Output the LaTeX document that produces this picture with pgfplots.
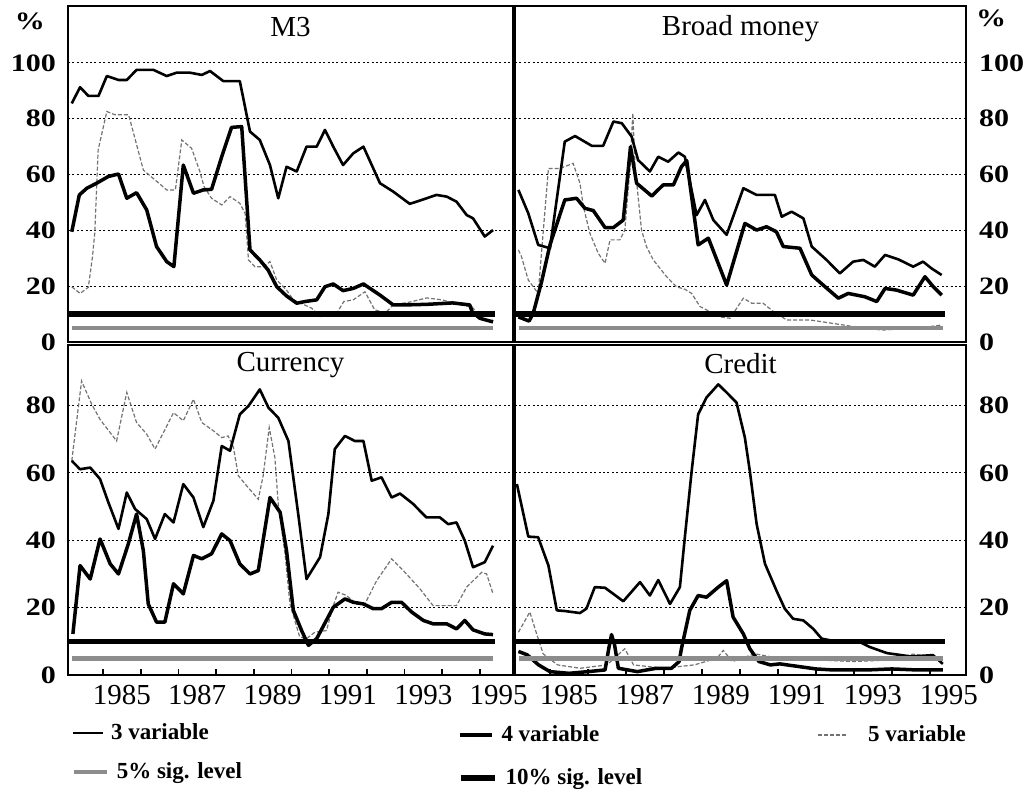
\documentclass[border=0pt]{standalone}
\usepackage{fontspec}
\setmainfont{Liberation Serif}
\newfontfamily\ytfont[FakeStretch=1.2]{Liberation Serif}
\usepackage{pgfplots}
\pgfplotsset{compat=1.18}
\newcommand\titlefont{\fontsize{14.5}{15}\selectfont}
\pgfplotsset{
  v3/.style={black, line width=1.3pt, line join=round},
  v4/.style={black, line width=1.75pt, line join=round},
  v5/.style={black!55, line width=0.6pt, dash pattern=on 2pt off 1pt},
  s5/.style={black!45, line width=2.4pt},
  s10/.style={black, line width=2.8pt},
  panel/.style={scale only axis, anchor=north west,
    axis line style={line width=1.2pt},
    ymajorgrids, major grid style={black, line width=0.5pt, dash pattern=on 1pt off 1.2pt},
    ytick style={draw=none},
    /pgf/number format/assume math mode=true,
    yticklabel style={font=\ytfont\bfseries\fontsize{12.5}{13}\selectfont},
    xticklabel style={font=\fontsize{14.5}{15}\selectfont, yshift=-1.5pt},
  },
  toppanel/.style={panel, height=168pt, ymin=0, ymax=120.4, ytick={0,20,40,60,80,100}, xtick=\empty},
  botpanel/.style={panel, height=165pt, ymin=0, ymax=98, ytick={0,20,40,60,80},
    xtick={1985,...,1995}, xticklabels={}, xtick pos=left,
    major tick length=3pt, xtick style={black, line width=0.8pt},
    extra x ticks={1985.5,1987.5,1989.5,1991.5,1993.5,1995.5},
    extra x tick labels={1985,1987,1989,1991,1993,1995},
    extra x tick style={major tick length=0pt, grid=none}},
  leftpanel/.style={width=222.5pt, xmin=1984.07, xmax=1995.88, yticklabel style={xshift=-2.5pt}},
  rightpanel/.style={width=225.5pt, xmin=1984.08, xmax=1995.95, yticklabel pos=right, yticklabel style={xshift=3pt}},
}
\newcommand\legitem[6]{%
\begin{axis}[hide axis, scale only axis, width=1pt, height=1pt, xmin=0, xmax=1, ymin=0, ymax=1,
  at={(#1,#2)}, anchor=west,
  legend style={at={(0,0.5)}, anchor=west, draw=none, fill=none, inner sep=0pt, outer sep=0pt,
    font=\bfseries\fontsize{11.5}{12}\selectfont, nodes={inner sep=0pt, outer sep=0pt}},
  legend image code/.code={\draw[##1] (0pt,0pt) -- (#4,0pt);}]
\addlegendimage{#3}
\addlegendentry{\hspace*{#5}#6}
\end{axis}}
\begin{document}
\begin{tikzpicture}
\useasboundingbox (0,0) rectangle (514.5pt,-398.5pt);
% ---------------- M3 ----------------
\begin{axis}[toppanel, leftpanel, at={(34pt,-3pt)}]
\addplot[v5] coordinates {(1984.17,19.8)(1984.39,17.4)(1984.61,19.6)(1984.72,30.6)(1984.78,39)(1984.87,68.8)(1985.10,82.6)(1985.32,81.4)(1985.68,81.4)(1986.07,61.6)(1986.43,57.5)(1986.69,54.5)(1986.92,54.5)(1987.09,72.4)(1987.35,69.4)(1987.57,61.1)(1987.68,55.7)(1987.88,51.5)(1988.15,49.1)(1988.37,52.1)(1988.63,49.7)(1988.77,46.1)(1988.86,29.4)(1989.03,27)(1989.26,27)(1989.43,28.8)(1989.61,22.2)(1989.87,18.6)(1990.05,15.1)(1990.54,12.1)(1990.76,9.1)(1991.2,10.3)(1991.39,14.5)(1991.64,15.1)(1991.95,18.0)(1992.21,11.5)(1992.5,10.5)(1992.7,13.3)(1993.14,14.3)(1993.59,15.8)(1994.0,15.1)(1994.47,13.3)(1994.8,12.5)(1995.0,9)(1995.27,7.2)(1995.35,7.9)};
\addplot[v3] coordinates {(1984.17,85.5)(1984.39,91.3)(1984.61,88.2)(1984.88,88.2)(1985.10,95.3)(1985.41,93.9)(1985.63,93.9)(1985.89,97.5)(1986.34,97.5)(1986.69,95.3)(1986.95,96.5)(1987.31,96.5)(1987.62,95.7)(1987.84,97.1)(1988.19,93.5)(1988.63,93.5)(1988.90,75.4)(1989.16,72.4)(1989.43,63.4)(1989.65,51.5)(1989.87,62.8)(1990.14,61.1)(1990.40,70.0)(1990.67,70.0)(1990.89,76.0)(1991.11,70.0)(1991.37,63.4)(1991.64,67.6)(1991.91,70.0)(1992.35,56.9)(1992.70,53.9)(1993.14,49.5)(1993.41,50.7)(1993.85,52.7)(1994.12,52.1)(1994.38,50.3)(1994.65,45.5)(1994.82,44.3)(1995.13,37.8)(1995.35,40.1)};
\addplot[v4] coordinates {(1984.17,39.5)(1984.37,52.7)(1984.57,55.1)(1984.83,56.9)(1985.14,59.3)(1985.41,60.2)(1985.63,51.5)(1985.89,53.5)(1986.16,47.3)(1986.42,34.2)(1986.69,28.8)(1986.88,27.0)(1987.13,63.4)(1987.40,53.3)(1987.66,54.5)(1987.88,54.7)(1988.15,66.4)(1988.41,76.9)(1988.68,77.2)(1988.90,33.0)(1989.16,29.4)(1989.38,25.8)(1989.61,19.8)(1989.87,16.5)(1990.14,13.9)(1990.36,14.5)(1990.67,15.1)(1990.89,19.8)(1991.11,20.8)(1991.37,18.4)(1991.64,19.2)(1991.91,20.8)(1992.35,16.8)(1992.70,13.3)(1993.06,13.3)(1993.6,13.5)(1994.28,14.0)(1994.73,13.3)(1994.80,10.7)(1995.0,8.5)(1995.35,7.2)};
\addplot[s5] coordinates {(1984.18,5)(1995.35,5)};
\addplot[s10] coordinates {(1984.07,10)(1995.4,10)};
\node[anchor=north, inner sep=0pt, font=\titlefont, yshift=-5.5pt] at (rel axis cs:0.5,1) {M3};
\end{axis}
% ---------------- Broad money ----------------
\begin{axis}[toppanel, rightpanel, at={(257.5pt,-3pt)}]
\addplot[v5] coordinates {(1984.17,33)(1984.25,30.6)(1984.43,22.2)(1984.69,17.4)(1984.82,39)(1984.96,62.2)(1985.26,62.2)(1985.61,64)(1985.79,56.9)(1985.88,48.5)(1986.05,39)(1986.27,31.8)(1986.45,28.2)(1986.58,36.6)(1986.84,36.6)(1986.97,40.1)(1987.11,62.8)(1987.18,82)(1987.24,62.8)(1987.41,40.1)(1987.54,34.2)(1987.72,29.4)(1988.07,23.4)(1988.33,19.8)(1988.55,18.9)(1988.73,17.4)(1988.95,12.7)(1989.21,10.9)(1989.47,9)(1989.74,8.5)(1990.09,15.7)(1990.31,13.9)(1990.61,13.9)(1990.88,10.9)(1991.23,7.9)(1991.84,7.9)(1992.72,6.1)(1993.25,4.9)(1993.77,4.3)(1994.47,4.9)(1995.0,5.5)(1995.31,6.1)};
\addplot[v3] coordinates {(1984.17,54.5)(1984.43,46.1)(1984.69,34.8)(1985.0,33.6)(1985.39,71.8)(1985.66,73.8)(1986.10,70.3)(1986.40,70.3)(1986.67,79.0)(1986.89,78.4)(1987.15,73.6)(1987.32,65.2)(1987.63,61.1)(1987.85,66.4)(1988.11,64.6)(1988.38,67.9)(1988.55,66.4)(1988.86,45.5)(1989.08,50.9)(1989.30,43.7)(1989.65,38.4)(1990.09,55.1)(1990.44,52.7)(1990.92,52.7)(1991.10,44.9)(1991.36,46.7)(1991.67,44.3)(1991.89,34.2)(1992.28,29.4)(1992.63,24.6)(1992.98,28.8)(1993.25,29.4)(1993.55,27.0)(1993.82,31.2)(1994.17,29.6)(1994.56,27.0)(1994.82,28.8)(1995.04,26.4)(1995.31,24.0)};
\addplot[v4] coordinates {(1984.17,9)(1984.45,7.5)(1984.56,10.3)(1984.78,21.6)(1985.0,34.8)(1985.39,50.9)(1985.70,51.5)(1985.92,47.9)(1986.14,47.1)(1986.45,41.0)(1986.67,41.0)(1986.93,43.7)(1987.12,70)(1987.28,56.9)(1987.68,52.3)(1987.98,56.3)(1988.25,56.3)(1988.46,62.8)(1988.6,65)(1988.90,34.8)(1989.17,37.2)(1989.65,20.4)(1990.13,42.5)(1990.44,40.1)(1990.70,41.3)(1990.96,39.5)(1991.14,34.2)(1991.58,33.6)(1991.89,24.0)(1992.24,19.8)(1992.59,15.7)(1992.85,17.4)(1993.29,16.2)(1993.60,14.5)(1993.82,19.2)(1994.12,18.6)(1994.56,16.8)(1994.87,23.4)(1995.09,19.8)(1995.31,16.8)};
\addplot[s5] coordinates {(1984.18,5)(1995.35,5)};
\addplot[s10] coordinates {(1984.08,10)(1995.4,10)};
\node[anchor=north, inner sep=0pt, font=\titlefont, yshift=-4.5pt] at (rel axis cs:0.5,1) {Broad money};
\end{axis}
% ---------------- Currency ----------------
\begin{axis}[botpanel, leftpanel, at={(34pt,-172.5pt)}]
\addplot[v5] coordinates {(1984.17,63.6)(1984.43,87.3)(1984.70,80.4)(1984.92,75.9)(1985.36,69.5)(1985.63,83.9)(1985.89,75.0)(1986.16,71.5)(1986.38,67.1)(1986.87,77.9)(1987.13,75.5)(1987.40,81.9)(1987.62,75.0)(1987.93,72.5)(1988.15,70.5)(1988.32,71.0)(1988.46,67.6)(1988.59,59.2)(1988.81,56.2)(1989.12,52.2)(1989.25,59.2)(1989.41,73.5)(1989.56,64.6)(1989.65,50.8)(1989.83,36.0)(1989.96,21.1)(1990.22,11.3)(1990.40,10.8)(1990.62,12.7)(1990.93,13.2)(1991.11,20.6)(1991.24,24.6)(1991.46,23.6)(1991.73,21.1)(1991.95,21.1)(1992.26,28.0)(1992.66,34.5)(1992.97,31.0)(1993.41,25.6)(1993.76,20.6)(1994.12,20.6)(1994.38,20.6)(1994.65,26.1)(1995.05,30.5)(1995.18,30.0)(1995.35,24.1)};
\addplot[v3] coordinates {(1984.17,63.6)(1984.39,61.1)(1984.66,61.6)(1984.92,58.2)(1985.14,51.3)(1985.41,43.4)(1985.63,54.2)(1985.85,49.3)(1986.16,46.3)(1986.38,40.4)(1986.64,47.8)(1986.87,45.3)(1987.13,56.7)(1987.40,52.7)(1987.66,43.9)(1987.93,51.8)(1988.15,68.0)(1988.37,66.6)(1988.63,77.4)(1988.86,79.9)(1989.16,84.8)(1989.39,79.4)(1989.65,76.4)(1989.92,69.5)(1990.18,47.8)(1990.40,28.5)(1990.76,35.0)(1990.98,47.8)(1991.15,67.1)(1991.42,71.0)(1991.68,69.5)(1991.91,69.5)(1992.13,57.7)(1992.39,58.7)(1992.66,52.7)(1992.88,53.9)(1993.23,50.8)(1993.58,46.8)(1993.94,46.8)(1994.16,44.8)(1994.38,45.3)(1994.60,39.9)(1994.82,32.0)(1995.13,33.5)(1995.35,38.4)};
\addplot[v4] coordinates {(1984.20,12.2)(1984.39,32.5)(1984.66,28.5)(1984.92,40.4)(1985.19,33.0)(1985.41,30.0)(1985.67,38.9)(1985.89,47.8)(1986.07,36.9)(1986.20,21.1)(1986.42,15.7)(1986.64,15.7)(1986.87,27.1)(1987.13,24.1)(1987.40,35.5)(1987.62,34.5)(1987.88,36.0)(1988.15,41.9)(1988.37,39.9)(1988.63,33.0)(1988.90,30.0)(1989.12,31.0)(1989.43,52.7)(1989.70,48.3)(1989.87,36.9)(1990.05,19.2)(1990.27,13.2)(1990.45,8.8)(1990.67,10.8)(1991.11,20.1)(1991.42,22.6)(1991.64,21.6)(1991.91,21.1)(1992.17,19.7)(1992.39,19.7)(1992.66,21.6)(1992.92,21.6)(1993.19,18.7)(1993.50,16.2)(1993.76,15.2)(1994.12,15.2)(1994.38,13.7)(1994.60,16.2)(1994.82,13.4)(1995.13,12.2)(1995.35,12.0)};
\addplot[s5] coordinates {(1984.18,5)(1995.35,5)};
\addplot[s10] coordinates {(1984.07,10)(1995.4,10)};
\node[anchor=north, inner sep=0pt, font=\titlefont, yshift=-3.3pt] at (rel axis cs:0.5,1) {Currency};
\end{axis}
% ---------------- Credit ----------------
\begin{axis}[botpanel, rightpanel, at={(257.5pt,-172.5pt)}]
\addplot[v5] coordinates {(1984.17,12.7)(1984.47,18.7)(1984.65,12.2)(1984.82,6.3)(1985.2,3)(1985.8,2)(1986.5,3)(1986.97,7.8)(1987.2,3)(1988.0,2)(1988.8,3)(1989.4,5)(1989.56,7.3)(1989.8,4)(1990.39,6.3)(1991,5)(1992,4.5)(1993,4)(1994,4.5)(1994.55,6.2)(1995.34,5)};
\addplot[v3] coordinates {(1984.13,56.7)(1984.43,41.1)(1984.69,40.9)(1984.96,32.5)(1985.18,19.2)(1985.39,19.0)(1985.79,18.4)(1985.96,19.7)(1986.18,26.1)(1986.45,25.9)(1986.93,21.9)(1987.37,27.6)(1987.63,23.6)(1987.85,28.2)(1988.16,21.1)(1988.42,26.1)(1988.55,40.9)(1988.73,60.6)(1988.90,77.4)(1989.12,82.4)(1989.43,86.3)(1989.65,83.9)(1989.91,80.9)(1990.13,70.5)(1990.26,60.6)(1990.44,44.8)(1990.66,33.0)(1990.96,25.1)(1991.18,19.7)(1991.40,16.7)(1991.67,16.2)(1991.93,13.7)(1992.15,10.8)(1992.59,9.8)(1993.07,10.3)(1993.42,8.3)(1993.87,6.5)(1994.5,5.5)(1995.08,5.9)(1995.34,3.3)};
\addplot[v4] coordinates {(1984.17,7)(1984.4,6)(1984.7,3)(1985.0,1)(1985.5,0.5)(1986.0,1)(1986.45,1.5)(1986.55,8)(1986.62,12)(1986.7,9)(1986.8,2)(1987.3,1)(1987.8,2)(1988.2,2)(1988.4,4)(1988.46,7.8)(1988.68,19.2)(1988.90,23.6)(1989.12,23.1)(1989.43,26.1)(1989.65,28.0)(1989.82,17.2)(1990.09,12.2)(1990.26,7.8)(1990.5,4)(1990.8,3)(1991.05,3.3)(1992.0,1.8)(1992.45,1.5)(1993.34,1.5)(1994.0,1.8)(1994.66,1.5)(1995.34,1.5)};
\addplot[s5] coordinates {(1984.18,5)(1995.35,5)};
\addplot[s10] coordinates {(1984.08,10)(1995.4,10)};
\node[anchor=north, inner sep=0pt, font=\titlefont, yshift=-3.8pt] at (rel axis cs:0.5,1) {Credit};
\end{axis}
% ---------------- % signs ----------------
\node[font=\ytfont\bfseries\fontsize{12.5}{13}\selectfont] at (15pt,-10.5pt) {\%};
\node[font=\ytfont\bfseries\fontsize{12.5}{13}\selectfont] at (495.5pt,-9pt) {\%};
% ---------------- legend ----------------
\legitem{36pt}{-366.5pt}{black, line width=1pt}{15pt}{3.5pt}{3 variable}
\legitem{36pt}{-386pt}{s5}{16.5pt}{3.5pt}{5\% sig. level}
\legitem{229pt}{-367.5pt}{v4}{16pt}{4pt}{4 variable}
\legitem{229pt}{-389pt}{s10}{17pt}{4pt}{10\% sig. level}
\legitem{408.5pt}{-367.5pt}{v5}{15pt}{10pt}{5 variable}
\end{tikzpicture}
\end{document}
